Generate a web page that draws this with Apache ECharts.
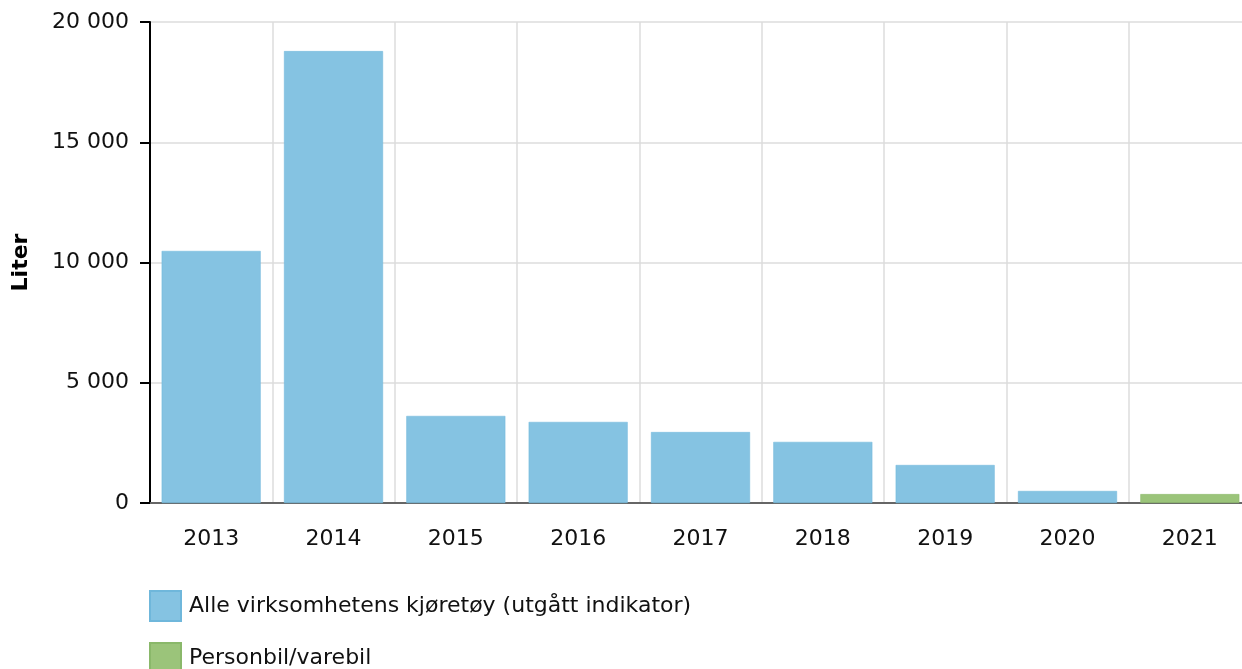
<!DOCTYPE html>
<html>
<head>
<meta charset="utf-8">
<script src="https://cdn.jsdelivr.net/npm/echarts@6/dist/echarts.min.js"></script>
<style>
  html, body { margin: 0; padding: 0; background: #fff; overflow: hidden; }
  #chart { width: 1262px; height: 669px; }
</style>
</head>
<body>
<div id="chart"></div>
<script>
const years = ['2013', '2014', '2015', '2016', '2017', '2018', '2019', '2020', '2021'];
// Alle virksomhetens kjøretøy (utgått indikator)
const alleKjoretoy = [10480, 18790, 3620, 3370, 2950, 2540, 1580, 500, null];
// Personbil/varebil
const personbil = [null, null, null, null, null, null, null, null, 370];

const fmt = v => String(v).replace(/\B(?=(\d{3})+(?!\d))/g, ' ');
const font = 'DejaVu Sans, Verdana, sans-serif';

const legendBase = {
    orient: 'vertical',
    left: 149,
    padding: 0,
    itemWidth: 31,
    itemHeight: 30,
    icon: 'rect',
    textStyle: { fontSize: 22, color: '#111', fontFamily: font, padding: [0, 0, 0, 3] }
};

const chart = echarts.init(document.getElementById('chart'));
chart.setOption({
    animation: false,
    textStyle: { fontFamily: font },
    grid: { left: 150, width: 1101, top: 22, bottom: 166 },
    legend: [
        Object.assign({}, legendBase, { top: 590, data: ['Alle virksomhetens kjøretøy (utgått indikator)'] }),
        Object.assign({}, legendBase, { top: 642, data: ['Personbil/varebil'] })
    ],
    xAxis: {
        type: 'category',
        data: years,
        axisLine: { lineStyle: { color: '#666', width: 2 } },
        axisTick: { alignWithLabel: true, length: 9, lineStyle: { color: '#aaa', width: 2 } },
        axisLabel: { fontSize: 22, color: '#111', margin: 25 },
        splitLine: { show: true, lineStyle: { color: '#ddd', width: 1.5 } }
    },
    yAxis: {
        type: 'value',
        min: 0,
        max: 20000,
        interval: 5000,
        name: 'Liter',
        nameLocation: 'middle',
        nameGap: 118,
        nameTextStyle: { fontSize: 22, fontWeight: 'bold', color: '#000' },
        axisLine: { show: true, lineStyle: { color: '#000', width: 2 } },
        axisTick: { show: true, length: 10, lineStyle: { color: '#000', width: 2 } },
        axisLabel: { fontSize: 22, color: '#111', margin: 21, formatter: fmt },
        splitLine: { lineStyle: { color: '#ddd', width: 1.5 } }
    },
    series: [
        {
            name: 'Alle virksomhetens kjøretøy (utgått indikator)',
            type: 'bar',
            data: alleKjoretoy,
            barWidth: 99,
            barGap: '-100%',
            itemStyle: { color: '#85c3e2', borderColor: '#6fb7db', borderWidth: 0.5 }
        },
        {
            name: 'Personbil/varebil',
            type: 'bar',
            data: personbil,
            barWidth: 99,
            barGap: '-100%',
            itemStyle: { color: '#9bc47a', borderColor: '#8ab86a', borderWidth: 0.5 }
        }
    ]
});
</script>
</body>
</html>
